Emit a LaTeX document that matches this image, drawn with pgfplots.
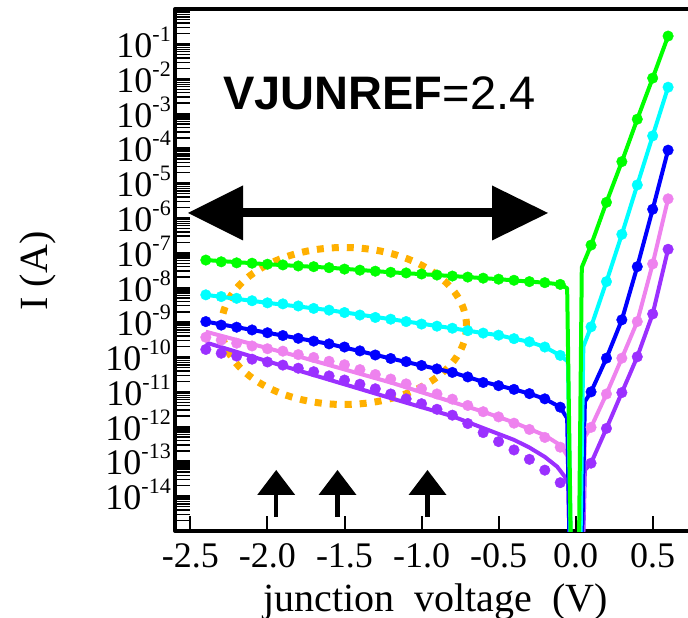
\documentclass[border=0pt]{standalone}
\usepackage{pgfplots}
\pgfplotsset{compat=1.18}
\usepackage{pgfplotstable}
\usepackage{fontspec}
\setmainfont{Liberation Serif}
\newfontfamily\arialfont{Liberation Sans}
\definecolor{cgreen}{RGB}{0,255,0}
\definecolor{ccyan}{RGB}{0,255,255}
\definecolor{cblue}{RGB}{0,0,255}
\definecolor{cpink}{RGB}{238,130,238}
\definecolor{cpurple}{RGB}{155,48,255}
\definecolor{corange}{RGB}{255,176,0}
\newcommand\sups[1]{\raisebox{16pt}{\fontsize{22}{22}\selectfont #1}}
\def\minorlist{1e-15}
\foreach \e in {-15,...,-1}{\foreach \m in {2,...,9}{\xdef\minorlist{\minorlist,\m e\e}}}

% ---- green ----
\pgfplotstableread{
V I
-2.4 6.17e-8
-2.3 5.50e-8
-2.2 5.13e-8
-2.1 5.01e-8
-2.0 4.68e-8
-1.9 4.47e-8
-1.8 4.17e-8
-1.7 3.98e-8
-1.6 3.72e-8
-1.5 3.39e-8
-1.4 3.16e-8
-1.3 2.95e-8
-1.2 2.75e-8
-1.1 2.63e-8
-1.0 2.45e-8
-0.9 2.29e-8
-0.8 2.14e-8
-0.7 2.00e-8
-0.6 1.86e-8
-0.5 1.74e-8
-0.4 1.62e-8
-0.3 1.48e-8
-0.2 1.38e-8
-0.1 1.23e-8
0.1 1.66e-7
0.2 2.82e-6
0.3 4.17e-5
0.4 6.92e-4
0.5 1.05e-2
0.6 1.70e-1
}\greendots
\pgfplotstableread{
V I
-2.4 6.17e-8
-2.0 4.68e-8
-1.6 3.72e-8
-1.2 2.75e-8
-0.8 2.14e-8
-0.5 1.74e-8
-0.3 1.48e-8
-0.2 1.38e-8
-0.1 1.23e-8
-0.055 9.55e-9
0.0 1e-25
0.04 3.80e-8
0.1 1.66e-7
0.2 2.82e-6
0.3 4.17e-5
0.4 6.92e-4
0.5 1.05e-2
0.6 1.70e-1
}\greenline
% ---- cyan ----
\pgfplotstableread{
V I
-2.4 6.17e-9
-2.3 5.50e-9
-2.2 4.90e-9
-2.1 4.17e-9
-2.0 3.63e-9
-1.9 3.39e-9
-1.8 2.95e-9
-1.7 2.51e-9
-1.6 2.24e-9
-1.5 1.91e-9
-1.4 1.62e-9
-1.3 1.38e-9
-1.2 1.23e-9
-1.1 1.05e-9
-1.0 8.91e-10
-0.9 7.76e-10
-0.8 6.76e-10
-0.7 5.75e-10
-0.6 4.90e-10
-0.5 4.27e-10
-0.4 3.39e-10
-0.3 2.75e-10
-0.2 1.95e-10
-0.1 1.12e-10
0.1 7.41e-10
0.2 1.48e-8
0.3 3.39e-7
0.4 8.91e-6
0.5 2.29e-4
0.6 5.75e-3
}\cyandots
\pgfplotstableread{
V I
-2.4 6.17e-9
-2.0 3.63e-9
-1.6 2.24e-9
-1.2 1.23e-9
-0.8 6.76e-10
-0.6 4.90e-10
-0.5 4.27e-10
-0.4 3.39e-10
-0.3 2.75e-10
-0.2 1.95e-10
-0.1 1.12e-10
-0.05 7.41e-11
0.0 1e-25
0.05 2.00e-10
0.1 7.41e-10
0.2 1.48e-8
0.3 3.39e-7
0.4 8.91e-6
0.5 2.29e-4
0.6 5.75e-3
}\cyanline
% ---- blue ----
\pgfplotstableread{
V I
-2.4 1.05e-9
-2.3 8.32e-10
-2.2 7.24e-10
-2.1 6.03e-10
-2.0 5.01e-10
-1.9 4.17e-10
-1.8 3.47e-10
-1.7 2.88e-10
-1.6 2.40e-10
-1.5 1.95e-10
-1.4 1.51e-10
-1.3 1.15e-10
-1.2 9.12e-11
-1.1 7.41e-11
-1.0 5.75e-11
-0.9 4.57e-11
-0.8 3.63e-11
-0.7 2.69e-11
-0.6 1.86e-11
-0.5 1.51e-11
-0.4 1.18e-11
-0.3 8.91e-12
-0.2 6.31e-12
-0.1 3.63e-12
0.1 1.00e-11
0.2 9.33e-11
0.3 1.18e-9
0.4 3.98e-8
0.5 1.78e-6
0.6 8.91e-5
}\bluedots
\pgfplotstableread{
V I
-2.4 1.05e-9
-2.0 5.01e-10
-1.6 2.40e-10
-1.2 9.12e-11
-0.8 3.63e-11
-0.6 1.95e-11
-0.4 1.18e-11
-0.3 8.91e-12
-0.2 6.31e-12
-0.1 3.63e-12
-0.055 1.74e-12
0.0 1e-25
0.06 5.25e-12
0.1 1.00e-11
0.2 9.33e-11
0.3 1.18e-9
0.4 3.98e-8
0.5 1.78e-6
0.6 8.91e-5
}\blueline
% ---- pink ----
\pgfplotstableread{
V I
-2.4 3.72e-10
-2.3 3.09e-10
-2.2 2.51e-10
-2.1 2.09e-10
-2.0 1.74e-10
-1.9 1.48e-10
-1.8 1.18e-10
-1.7 9.77e-11
-1.6 7.59e-11
-1.5 6.03e-11
-1.4 4.37e-11
-1.3 3.16e-11
-1.2 2.34e-11
-1.1 1.70e-11
-1.0 1.23e-11
-0.9 8.71e-12
-0.8 6.17e-12
-0.7 4.07e-12
-0.6 2.69e-12
-0.5 1.91e-12
-0.4 1.26e-12
-0.3 8.32e-13
-0.2 4.90e-13
-0.1 2.57e-13
0.1 9.55e-13
0.2 8.71e-12
0.3 9.33e-11
0.4 1.05e-9
0.5 4.79e-8
0.6 3.55e-6
}\pinkdots
\pgfplotstableread{
V I
-2.4 5.37e-10
-1.8 1.05e-10
-1.2 1.86e-11
-0.6 2.69e-12
-0.4 1.32e-12
-0.2 5.62e-13
-0.1 2.95e-13
-0.05 1.38e-13
0.0 1e-25
0.06 5.13e-13
0.1 9.55e-13
0.2 8.71e-12
0.3 9.33e-11
0.4 1.05e-9
0.5 4.79e-8
0.6 3.55e-6
}\pinkline
% ---- purple ----
\pgfplotstableread{
V I
-2.4 1.66e-10
-2.3 1.29e-10
-2.2 1.07e-10
-2.1 8.71e-11
-2.0 7.24e-11
-1.9 5.89e-11
-1.8 4.79e-11
-1.7 3.80e-11
-1.6 2.88e-11
-1.5 2.19e-11
-1.4 1.66e-11
-1.3 1.23e-11
-1.2 8.71e-12
-1.1 6.31e-12
-1.0 4.57e-12
-0.9 3.16e-12
-0.8 2.14e-12
-0.7 1.23e-12
-0.6 6.76e-13
-0.5 3.72e-13
-0.4 2.14e-13
-0.3 1.15e-13
-0.2 5.62e-14
-0.1 2.45e-14
0.1 8.91e-14
0.2 8.91e-13
0.3 9.55e-12
0.4 1.02e-10
0.5 1.74e-9
0.6 1.26e-7
}\purpledots
\pgfplotstableread{
V I
-2.4 2.63e-10
-2.0 7.59e-11
-1.6 2.24e-11
-1.2 6.61e-12
-0.8 2.00e-12
-0.6 9.12e-13
-0.4 4.17e-13
-0.3 2.51e-13
-0.2 1.35e-13
-0.12 7.08e-14
-0.07 3.63e-14
-0.047 2.34e-14
0.0 1e-25
0.06 5.62e-14
0.1 8.91e-14
0.2 8.91e-13
0.3 9.55e-12
0.4 1.02e-10
0.5 1.74e-9
0.6 1.26e-7
}\purpleline

\begin{document}
\begin{tikzpicture}
% annotations
\draw[corange, line width=7pt, dash pattern=on 7pt off 8pt] (344pt,292pt) ellipse [x radius=122.5pt, y radius=78.5pt];
\draw[line width=9pt] (240pt,405pt) -- (495pt,405pt);
\fill (188pt,405pt) -- (243pt,432.5pt) -- (243pt,377.5pt) -- cycle;
\fill (548pt,405pt) -- (492pt,432.5pt) -- (492pt,377.5pt) -- cycle;
\foreach \ax in {276.2,337.5,427.5}{
  \fill (\ax pt,148pt) -- ({(\ax-19)*1pt},123pt) -- ({(\ax+19)*1pt},123pt) -- cycle;
  \draw[line width=4.4pt] (\ax pt,124pt) -- (\ax pt,101pt);
}
\begin{axis}[
  at={(175pt,87pt)}, anchor=south west,
  scale only axis, width=516.2pt, height=521.7pt,
  xmin=-2.6, xmax=0.75,
  ymode=log, ymin=1e-15, ymax=1,
  xtick={-2.5,-2,-1.5,-1,-0.5,0,0.5},
  xticklabels={-2.5,-2.0,-1.5,-1.0,-0.5,0.0,0.5},
  ytick={1e-15,1e-14,1e-13,1e-12,1e-11,1e-10,1e-9,1e-8,1e-7,1e-6,1e-5,1e-4,1e-3,1e-2,1e-1,1},
  yticklabels={{},10\sups{-14},10\sups{-13},10\sups{-12},10\sups{-11},10\sups{-10},10\sups{-9},10\sups{-8},10\sups{-7},10\sups{-6},10\sups{-5},10\sups{-4},10\sups{-3},10\sups{-2},10\sups{-1},{}},
  minor ytick/.expanded={\minorlist},
  tick pos=left, tick align=inside,
  major tick length=15pt, minor tick length=15pt,
  tick style={black, line width=1.4pt},
  major tick style={line width=2pt},
  axis line style={line width=4pt},
  tick label style={font=\fontsize{36}{40}\selectfont},
  xticklabel style={inner sep=0pt, anchor=north, yshift=-12.5pt},
  yticklabel style={inner sep=4pt, anchor=base east, yshift=-13.5pt},
  line join=round,
]
\addplot[cpurple, line width=4pt, no marks] table[x=V,y=I] {\purpleline};
\addplot[cpurple, only marks, mark=*, mark size=5.3pt, mark options={fill=cpurple, draw=cpurple}] table[x=V,y=I] {\purpledots};
\addplot[cpink, line width=4pt, no marks] table[x=V,y=I] {\pinkline};
\addplot[cpink, only marks, mark=*, mark size=5.3pt, mark options={fill=cpink, draw=cpink}] table[x=V,y=I] {\pinkdots};
\addplot[cblue, line width=4pt, no marks] table[x=V,y=I] {\blueline};
\addplot[cblue, only marks, mark=*, mark size=5.3pt, mark options={fill=cblue, draw=cblue}] table[x=V,y=I] {\bluedots};
\addplot[ccyan, line width=4pt, no marks] table[x=V,y=I] {\cyanline};
\addplot[ccyan, only marks, mark=*, mark size=5.3pt, mark options={fill=ccyan, draw=ccyan}] table[x=V,y=I] {\cyandots};
\addplot[cgreen, line width=4pt, no marks] table[x=V,y=I] {\greenline};
\addplot[cgreen, only marks, mark=*, mark size=5.3pt, mark options={fill=cgreen, draw=cgreen}] table[x=V,y=I] {\greendots};
\end{axis}
\node[anchor=base west, inner sep=0pt, font=\arialfont\fontsize{47}{50}\selectfont] at (223pt,508pt) {\bfseries VJUNREF\mdseries=2.4};
\node[anchor=base, inner sep=0pt, font=\fontsize{40}{44}\selectfont] at (435.5pt,6pt) {junction\ \ voltage\ \ (V)};
\node[anchor=base, rotate=90, inner sep=0pt, font=\fontsize{40}{44}\selectfont] at (47pt,347pt) {I (A)};
\pgfresetboundingbox
\path[use as bounding box] (0pt,0pt) rectangle (688pt,618pt);
\end{tikzpicture}
\end{document}
